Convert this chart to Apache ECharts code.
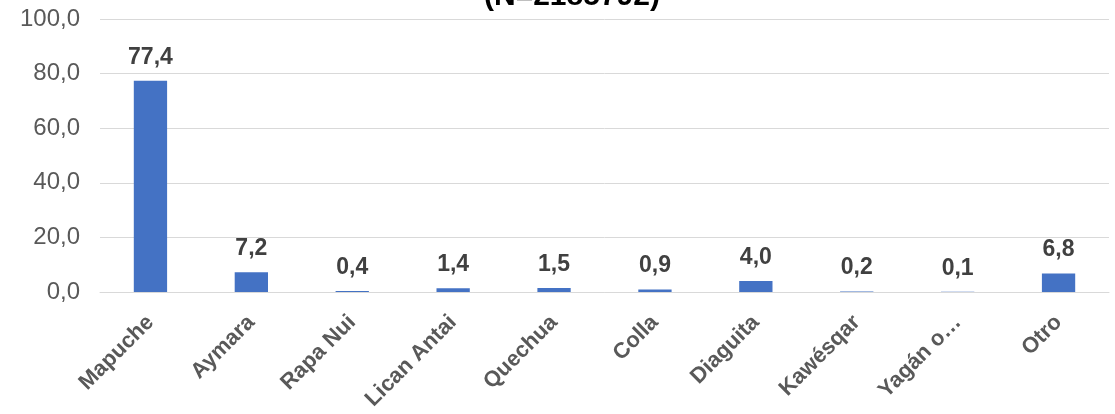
<!DOCTYPE html>
<html><head><meta charset="utf-8">
<script src="https://cdn.jsdelivr.net/npm/echarts@6/dist/echarts.min.js"></script>
<style>html,body{margin:0;padding:0;background:#fff}#c{width:1115px;height:414px}</style>
</head><body><div id="c"></div>
<script>
var categories = ['Mapuche','Aymara','Rapa Nui','Lican Antai','Quechua','Colla','Diaguita','Kawésqar','Yagán o…','Otro'];
var values = [77.4, 7.2, 0.4, 1.4, 1.5, 0.9, 4.0, 0.2, 0.1, 6.8];
var titleText = '(N=2185792)';
var fmt = function(v){ return Number(v).toFixed(1).replace('.', ','); };
var FF = 'Arial, "Liberation Sans", sans-serif';
var chart = echarts.init(document.getElementById('c'));
chart.setOption({
  animation: false,
  graphic: [{
    type: 'text', left: 484, top: -18,
    style: { text: titleText, font: 'bold 30px Arial, "Liberation Sans", sans-serif', fill: '#000' }
  }],
  grid: { left: 100, right: 6, top: 19, bottom: 122 },
  xAxis: {
    type: 'category', data: categories,
    axisLine: { show: true, lineStyle: { color: '#d9d9d9', width: 1 } },
    axisTick: { show: false },
    axisLabel: { rotate: 45, interval: 0, margin: 27, color: '#595959', fontWeight: 'bold', fontSize: 22, fontFamily: FF }
  },
  yAxis: {
    type: 'value', min: 0, max: 100, interval: 20,
    axisLine: { show: false }, axisTick: { show: false },
    splitLine: { lineStyle: { color: '#d9d9d9', width: 1 } },
    axisLabel: { formatter: fmt, margin: 20, color: '#595959', fontSize: 24, fontFamily: FF }
  },
  series: [{
    type: 'bar', data: values, barWidth: '33%',
    itemStyle: { color: '#4472C4' },
    label: { show: true, position: 'top', distance: 12, formatter: function(p){ return fmt(p.value); },
      color: '#404040', fontWeight: 'bold', fontSize: 23, fontFamily: FF }
  }]
});
</script></body></html>
